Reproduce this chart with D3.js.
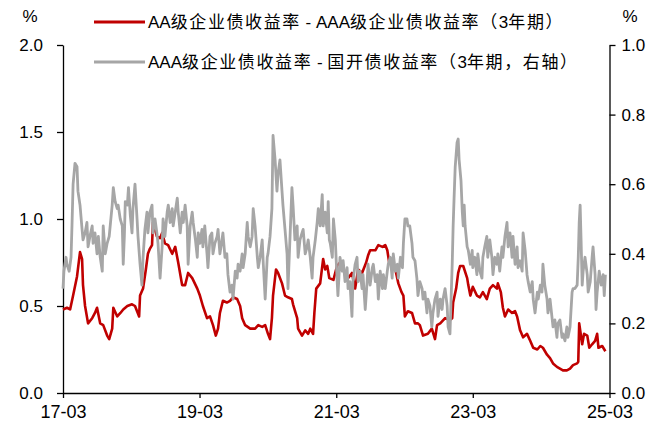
<!DOCTYPE html>
<html>
<head>
<meta charset="utf-8">
<script src="https://cdn.jsdelivr.net/npm/d3@7"></script>
<style>
  html, body { margin: 0; padding: 0; background: #fff; }
  svg { display: block; }
  text { font-family: "Liberation Sans", Arial, "Noto Sans CJK SC", sans-serif; fill: #000; }
</style>
</head>
<body>
<svg id="chart" width="670" height="425"></svg>
<script>
// AA - AAA corporate bond yield spread, 3Y (left axis, %)
const spreadDates = [
  "2017-03-01","2017-03-22","2017-04-08","2017-04-24","2017-05-15","2017-05-31","2017-06-11","2017-06-16","2017-06-27","2017-07-13",
  "2017-08-04","2017-08-19","2017-08-30","2017-09-16","2017-10-02","2017-10-23","2017-11-03","2017-11-19","2017-11-25","2017-12-16",
  "2018-01-02","2018-01-17","2018-02-08","2018-03-05","2018-03-21","2018-04-01","2018-04-12","2018-04-17","2018-05-03","2018-05-18",
  "2018-05-29","2018-06-09","2018-06-20","2018-06-25","2018-07-16","2018-08-02","2018-08-13","2018-08-28","2018-09-14","2018-10-06",
  "2018-10-22","2018-11-07","2018-11-28","2018-12-14","2018-12-30","2019-01-21","2019-02-17","2019-03-03","2019-03-19","2019-04-10",
  "2019-04-26","2019-05-12","2019-05-27","2019-06-08","2019-06-18","2019-07-04","2019-07-25","2019-08-11","2019-08-27","2019-09-18",
  "2019-10-04","2019-10-15","2019-10-31","2019-11-27","2019-12-23","2020-01-09","2020-01-30","2020-02-15","2020-03-01","2020-03-12",
  "2020-03-22","2020-03-28","2020-04-13","2020-04-24","2020-05-15","2020-05-31","2020-06-16","2020-07-07","2020-07-13","2020-08-04",
  "2020-08-09","2020-08-30","2020-09-16","2020-10-02","2020-10-13","2020-10-28","2020-11-04","2020-11-14","2020-12-05","2020-12-21",
  "2021-01-01","2021-01-12","2021-01-23","2021-02-14","2021-03-05","2021-03-21","2021-04-17","2021-05-03","2021-05-24","2021-06-10",
  "2021-06-26","2021-07-17","2021-08-08","2021-08-18","2021-08-29","2021-09-26","2021-10-12","2021-11-03","2021-11-18","2021-11-29",
  "2021-12-09","2021-12-25","2022-01-11","2022-01-27","2022-02-13","2022-02-23","2022-03-03","2022-03-19","2022-04-10","2022-04-26",
  "2022-05-12","2022-05-22","2022-06-08","2022-07-04","2022-07-25","2022-08-11","2022-08-22","2022-09-08","2022-10-04","2022-10-30",
  "2022-11-11","2022-11-16","2022-12-02","2022-12-13","2022-12-23","2023-01-09","2023-01-30","2023-02-05","2023-02-16","2023-03-01",
  "2023-03-23","2023-04-08","2023-04-24","2023-05-15","2023-05-31","2023-06-17","2023-07-08","2023-07-13","2023-07-29","2023-08-09",
  "2023-08-20","2023-09-06","2023-09-27","2023-10-13","2023-10-24","2023-11-09","2023-11-25","2023-12-16","2024-01-02","2024-01-18",
  "2024-02-09","2024-02-25","2024-03-10","2024-04-01","2024-04-17","2024-05-03","2024-05-24","2024-06-09","2024-06-25","2024-07-16",
  "2024-08-02","2024-08-18","2024-09-09","2024-09-15","2024-09-20","2024-10-06","2024-10-16","2024-11-02","2024-11-13","2024-11-28",
  "2024-12-14","2024-12-25","2025-01-01","2025-01-21","2025-02-07"
];
const spreadValues = [
  0.48,0.49,0.48,0.56,0.67,0.81,0.77,0.62,0.50,0.40,
  0.43,0.46,0.49,0.40,0.39,0.33,0.31,0.37,0.49,0.44,
  0.46,0.48,0.50,0.51,0.50,0.47,0.44,0.56,0.60,0.71,
  0.80,0.83,0.85,0.98,0.90,0.89,0.92,0.86,0.85,0.80,
  0.84,0.75,0.62,0.62,0.69,0.66,0.60,0.56,0.50,0.43,
  0.44,0.39,0.33,0.37,0.46,0.53,0.52,0.53,0.55,0.54,
  0.50,0.43,0.39,0.37,0.37,0.39,0.38,0.39,0.34,0.31,
  0.43,0.56,0.71,0.69,0.63,0.56,0.55,0.54,0.51,0.43,
  0.37,0.33,0.36,0.34,0.37,0.34,0.46,0.60,0.63,0.77,
  0.71,0.73,0.66,0.65,0.73,0.75,0.69,0.66,0.69,0.60,
  0.71,0.69,0.75,0.79,0.82,0.82,0.85,0.84,0.85,0.82,
  0.75,0.73,0.71,0.63,0.58,0.56,0.44,0.47,0.46,0.40,
  0.40,0.39,0.33,0.34,0.37,0.31,0.39,0.40,0.43,0.42,
  0.43,0.52,0.60,0.69,0.73,0.73,0.66,0.62,0.56,0.61,
  0.56,0.55,0.58,0.54,0.60,0.62,0.60,0.63,0.58,0.49,
  0.44,0.48,0.46,0.47,0.44,0.36,0.32,0.34,0.30,0.26,
  0.25,0.27,0.26,0.22,0.20,0.17,0.15,0.14,0.13,0.13,
  0.14,0.16,0.17,0.18,0.40,0.28,0.34,0.33,0.26,0.28,
  0.30,0.34,0.26,0.27,0.24
];

// AAA corporate bond yield - CDB bond yield, 3Y (right axis, %)
const cdbDates = [
  "2017-03-01","2017-03-06","2017-03-17","2017-03-22","2017-04-03","2017-04-13","2017-04-18","2017-04-24","2017-04-29","2017-05-04",
  "2017-05-15","2017-05-20","2017-05-31","2017-06-11","2017-06-16","2017-06-27","2017-07-07","2017-07-13","2017-07-23","2017-08-04",
  "2017-08-09","2017-08-19","2017-08-30","2017-09-06","2017-09-16","2017-09-27","2017-10-02","2017-10-13","2017-10-23","2017-11-03",
  "2017-11-19","2017-11-25","2017-12-05","2017-12-16","2017-12-21","2018-01-01","2018-01-12","2018-01-17","2018-01-23","2018-01-28",
  "2018-02-08","2018-02-14","2018-02-24","2018-03-05","2018-03-10","2018-03-21","2018-04-01","2018-04-06","2018-04-17","2018-04-27",
  "2018-05-03","2018-05-13","2018-05-24","2018-05-29","2018-06-09","2018-06-20","2018-06-25","2018-07-06","2018-07-16","2018-07-22",
  "2018-08-02","2018-08-13","2018-08-18","2018-08-28","2018-09-09","2018-09-15","2018-09-25","2018-10-06","2018-10-11","2018-10-22",
  "2018-11-02","2018-11-07","2018-11-18","2018-11-28","2018-12-04","2018-12-14","2018-12-25","2018-12-30","2019-01-10","2019-01-21",
  "2019-01-26","2019-02-07","2019-02-17","2019-02-22","2019-03-03","2019-03-14","2019-03-19","2019-03-29","2019-04-10","2019-04-15",
  "2019-04-26","2019-05-06","2019-05-12","2019-05-22","2019-06-03","2019-06-08","2019-06-18","2019-06-29","2019-07-04","2019-07-15",
  "2019-07-25","2019-07-31","2019-08-11","2019-08-21","2019-08-27","2019-09-08","2019-09-18","2019-09-23","2019-10-04","2019-10-15",
  "2019-10-20","2019-10-31","2019-11-11","2019-11-16","2019-11-27","2019-12-07","2019-12-13","2019-12-23","2020-01-04","2020-01-09",
  "2020-01-19","2020-01-30","2020-02-05","2020-02-15","2020-02-26","2020-03-01","2020-03-12","2020-03-22","2020-03-28","2020-04-08",
  "2020-04-18","2020-04-24","2020-05-04","2020-05-15","2020-05-20","2020-05-31","2020-06-11","2020-06-16","2020-06-27","2020-07-07",
  "2020-07-13","2020-07-23","2020-08-04","2020-08-09","2020-08-19","2020-08-30","2020-09-05","2020-09-16","2020-09-26","2020-10-02",
  "2020-10-13","2020-10-23","2020-10-28","2020-11-09","2020-11-19","2020-11-25","2020-12-05","2020-12-16","2020-12-21","2021-01-01",
  "2021-01-12","2021-01-17","2021-01-23","2021-01-28","2021-02-08","2021-02-14","2021-02-24","2021-03-05","2021-03-10","2021-03-21",
  "2021-04-02","2021-04-07","2021-04-17","2021-04-28","2021-05-03","2021-05-13","2021-05-24","2021-05-29","2021-06-10","2021-06-20",
  "2021-06-26","2021-07-06","2021-07-17","2021-07-22","2021-08-03","2021-08-13","2021-08-18","2021-08-29","2021-09-10","2021-09-15",
  "2021-09-26","2021-10-06","2021-10-12","2021-10-22","2021-11-03","2021-11-08","2021-11-18","2021-11-29","2021-12-04","2021-12-15",
  "2021-12-25","2021-12-31","2022-01-11","2022-01-22","2022-01-27","2022-02-07","2022-02-18","2022-02-23","2022-03-03","2022-03-14",
  "2022-03-19","2022-03-29","2022-04-10","2022-04-15","2022-04-26","2022-05-06","2022-05-12","2022-05-22","2022-06-03","2022-06-08",
  "2022-06-18","2022-06-29","2022-07-04","2022-07-15","2022-07-25","2022-07-31","2022-08-11","2022-08-22","2022-08-27","2022-09-08",
  "2022-09-18","2022-09-23","2022-10-04","2022-10-15","2022-10-20","2022-10-30","2022-11-11","2022-11-16","2022-11-21","2022-11-27",
  "2022-12-07","2022-12-13","2022-12-18","2022-12-28","2023-01-04","2023-01-09","2023-01-14","2023-01-19","2023-01-30","2023-02-05",
  "2023-02-16","2023-02-26","2023-03-01","2023-03-12","2023-03-23","2023-03-28","2023-04-08","2023-04-19","2023-04-24","2023-05-04",
  "2023-05-15","2023-05-20","2023-05-31","2023-06-11","2023-06-17","2023-06-27","2023-07-08","2023-07-13","2023-07-23","2023-08-04",
  "2023-08-09","2023-08-20","2023-08-31","2023-09-06","2023-09-16","2023-09-27","2023-10-02","2023-10-13","2023-10-24","2023-10-29",
  "2023-11-09","2023-11-20","2023-11-25","2023-12-06","2023-12-16","2023-12-22","2024-01-02","2024-01-13","2024-01-18","2024-01-28",
  "2024-02-09","2024-02-14","2024-02-25","2024-03-05","2024-03-10","2024-03-20","2024-04-01","2024-04-06","2024-04-17","2024-04-27",
  "2024-05-03","2024-05-13","2024-05-24","2024-05-29","2024-06-09","2024-06-20","2024-06-25","2024-07-06","2024-07-16","2024-07-22",
  "2024-08-02","2024-08-13","2024-08-18","2024-08-28","2024-09-09","2024-09-15","2024-09-20","2024-09-25","2024-09-30","2024-10-06",
  "2024-10-11","2024-10-21","2024-11-02","2024-11-07","2024-11-18","2024-11-28","2024-12-03","2024-12-14","2024-12-19","2024-12-25",
  "2025-01-05","2025-01-16","2025-01-26","2025-02-01","2025-02-07"
];
const cdbValues = [
  0.30,0.35,0.39,0.37,0.35,0.39,0.48,0.60,0.63,0.66,
  0.65,0.58,0.54,0.47,0.44,0.46,0.49,0.42,0.45,0.48,
  0.43,0.46,0.40,0.45,0.39,0.35,0.48,0.40,0.43,0.45,
  0.54,0.59,0.55,0.53,0.54,0.50,0.48,0.37,0.45,0.55,
  0.54,0.59,0.51,0.46,0.53,0.60,0.50,0.45,0.37,0.31,
  0.39,0.47,0.52,0.46,0.52,0.54,0.46,0.50,0.46,0.43,
  0.33,0.42,0.50,0.45,0.52,0.54,0.49,0.53,0.48,0.52,
  0.56,0.52,0.46,0.52,0.49,0.54,0.48,0.37,0.48,0.52,
  0.49,0.44,0.39,0.46,0.43,0.47,0.42,0.48,0.40,0.36,
  0.45,0.46,0.40,0.43,0.45,0.47,0.40,0.44,0.46,0.39,
  0.40,0.34,0.29,0.31,0.27,0.35,0.33,0.37,0.35,0.40,
  0.36,0.40,0.49,0.45,0.42,0.45,0.53,0.48,0.39,0.36,
  0.39,0.44,0.37,0.27,0.39,0.40,0.45,0.53,0.74,0.67,
  0.58,0.63,0.67,0.58,0.54,0.47,0.40,0.30,0.45,0.59,
  0.54,0.44,0.48,0.39,0.44,0.46,0.47,0.40,0.42,0.44,
  0.39,0.33,0.39,0.44,0.49,0.53,0.48,0.57,0.48,0.52,
  0.46,0.55,0.44,0.43,0.39,0.50,0.44,0.33,0.28,0.39,
  0.35,0.38,0.32,0.36,0.30,0.32,0.22,0.32,0.37,0.39,
  0.32,0.35,0.30,0.34,0.24,0.32,0.37,0.31,0.36,0.37,
  0.32,0.34,0.27,0.35,0.30,0.34,0.30,0.35,0.37,0.39,
  0.33,0.40,0.35,0.37,0.33,0.39,0.36,0.43,0.50,0.50,
  0.48,0.48,0.43,0.39,0.38,0.33,0.28,0.32,0.30,0.27,
  0.29,0.23,0.27,0.25,0.19,0.23,0.27,0.29,0.22,0.27,
  0.24,0.27,0.30,0.25,0.19,0.17,0.37,0.48,0.56,0.65,
  0.72,0.73,0.67,0.61,0.52,0.48,0.54,0.48,0.42,0.41,
  0.37,0.41,0.36,0.39,0.34,0.40,0.35,0.33,0.39,0.42,
  0.45,0.39,0.44,0.39,0.34,0.39,0.37,0.40,0.35,0.42,
  0.39,0.45,0.49,0.42,0.46,0.39,0.45,0.37,0.42,0.36,
  0.38,0.35,0.46,0.41,0.34,0.32,0.29,0.32,0.27,0.23,
  0.29,0.27,0.31,0.29,0.37,0.31,0.27,0.23,0.27,0.22,
  0.19,0.21,0.16,0.20,0.21,0.16,0.17,0.15,0.19,0.16,
  0.19,0.29,0.30,0.30,0.31,0.39,0.49,0.54,0.44,0.31,
  0.35,0.39,0.34,0.29,0.32,0.39,0.42,0.34,0.24,0.29,
  0.35,0.31,0.34,0.28,0.34
];

// Axis tick values and labels
const leftTicks = [0, 0.5, 1.0, 1.5, 2.0];
const rightTicks = [0, 0.2, 0.4, 0.6, 0.8, 1.0];
const xTickDates = ["2017-03-01", "2019-03-01", "2021-03-01", "2023-03-01", "2025-03-01"];
const xDomain = ["2017-03-01", "2025-03-01"];
const seriesNames = [
  "AA级企业债收益率 - AAA级企业债收益率（3年期）",
  "AAA级企业债收益率 - 国开债收益率（3年期，右轴）"
];
const seriesColors = ["#C00000", "#A6A6A6"];

const parse = d3.timeParse("%Y-%m-%d");
const margin = { left: 63, right: 60.5, top: 45, bottom: 32 };
const W = 670, H = 425;
const svg = d3.select("#chart");

const x = d3.scaleTime().domain(xDomain.map(parse)).range([margin.left, W - margin.right]);
const yL = d3.scaleLinear().domain([0, 2]).range([H - margin.bottom, margin.top]);
const yR = d3.scaleLinear().domain([0, 1]).range([H - margin.bottom, margin.top]);

const spread = spreadDates.map((d, i) => ({ date: parse(d), value: spreadValues[i] }));
const cdb = cdbDates.map((d, i) => ({ date: parse(d), value: cdbValues[i] }));

// Axes
const fontSize = 17;
const gL = svg.append("g").attr("transform", `translate(${margin.left},0)`)
  .call(d3.axisLeft(yL).tickValues(leftTicks).tickFormat(d3.format(".1f")).tickSize(6).tickSizeOuter(0).tickPadding(14));
const gR = svg.append("g").attr("transform", `translate(${W - margin.right},0)`)
  .call(d3.axisRight(yR).tickValues(rightTicks).tickFormat(d3.format(".1f")).tickSize(6).tickSizeOuter(0).tickPadding(6));
const gX = svg.append("g").attr("transform", `translate(0,${H - margin.bottom})`)
  .call(d3.axisBottom(x).tickValues(xTickDates.map(parse)).tickFormat(d3.timeFormat("%y-%m")).tickSize(5).tickSizeOuter(0).tickPadding(7));

[gL, gR, gX].forEach(g => {
  g.selectAll("path.domain").attr("stroke", "#000").attr("stroke-width", 1.3);
  g.selectAll(".tick line").attr("stroke", "#000").attr("stroke-width", 1.3);
  g.selectAll(".tick text").attr("font-size", fontSize).attr("font-family", "Liberation Sans, Arial, sans-serif").attr("fill", "#000");
});
gX.selectAll(".tick text").attr("font-size", 18);

// Unit labels
svg.append("text").attr("x", 30).attr("y", 22).attr("text-anchor", "middle").attr("font-size", fontSize).text("%");
svg.append("text").attr("x", 630).attr("y", 22).attr("text-anchor", "middle").attr("font-size", fontSize).text("%");

// Series
const lineL = d3.line().x(d => x(d.date)).y(d => yL(d.value));
const lineR = d3.line().x(d => x(d.date)).y(d => yR(d.value));

svg.append("path").datum(spread)
  .attr("fill", "none").attr("stroke", seriesColors[0]).attr("stroke-width", 2.6)
  .attr("stroke-linejoin", "round").attr("d", lineL);
svg.append("path").datum(cdb)
  .attr("fill", "none").attr("stroke", seriesColors[1]).attr("stroke-width", 2.8)
  .attr("stroke-linejoin", "round").attr("d", lineR);

// Legend: Latin runs in Liberation Sans, CJK runs slightly spaced
const legendY = [22, 62];
const legend = svg.append("g");
const cjkRun = /([\u3000-\u9fff\uff00-\uffef]+)/;
seriesNames.forEach((name, i) => {
  legend.append("line")
    .attr("x1", 94).attr("x2", 145).attr("y1", legendY[i]).attr("y2", legendY[i])
    .attr("stroke", seriesColors[i]).attr("stroke-width", 3);
  const t = legend.append("text")
    .attr("x", 148).attr("y", legendY[i]).attr("dy", "0.36em")
    .attr("font-size", fontSize);
  name.split(cjkRun).filter(s => s.length).forEach(part => {
    const isCjk = cjkRun.test(part);
    t.append("tspan")
      .attr("font-family", isCjk ? "'Noto Sans CJK SC', sans-serif" : "'Liberation Sans', Arial, sans-serif")
      .attr("letter-spacing", isCjk ? 1.6 : 0)
      .text(part);
  });
});
</script>
</body>
</html>
